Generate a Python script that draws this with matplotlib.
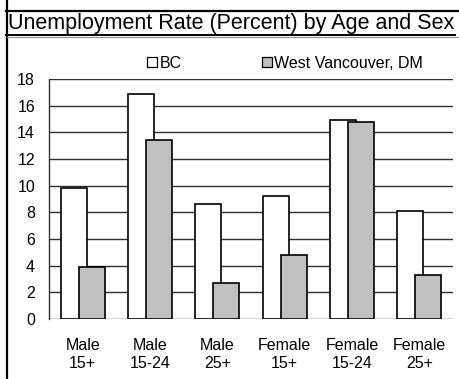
import matplotlib
matplotlib.use("Agg")
import matplotlib.pyplot as plt
from matplotlib.lines import Line2D
import numpy as np

categories = ["Male\n15+", "Male\n15-24", "Male\n25+", "Female\n15+", "Female\n15-24", "Female\n25+"]
bc = [9.8, 16.85, 8.6, 9.2, 14.9, 8.1]
west_van = [3.9, 13.4, 2.7, 4.8, 14.8, 3.3]
series_names = ["BC", "West Vancouver, DM"]
yticks = [0, 2, 4, 6, 8, 10, 12, 14, 16, 18]

plt.rcParams['font.family'] = ['Liberation Sans', 'DejaVu Sans']

W, H = 459, 379
fig = plt.figure(figsize=(W / 100, H / 100), dpi=100)

def fx(px):
    return px / W

def fy(py):
    return 1 - py / H

ax = fig.add_axes([fx(49), fy(319), fx(453) - fx(49), fy(79) - fy(319)])

x = np.arange(len(categories))
bw = 0.386
off = 0.134
ax.bar(x - off, bc, width=bw, color="white", edgecolor="black", linewidth=1.2, zorder=3, label=series_names[0])
ax.bar(x + off, west_van, width=bw, color="#c0c0c0", edgecolor="black", linewidth=1.2, zorder=4, label=series_names[1])

ax.set_xlim(-0.5, len(categories) - 0.5)
ax.set_ylim(0, 18)
ax.set_yticks(yticks)
ax.set_yticklabels([str(v) for v in yticks], fontsize=11.5)
ax.set_xticks(x)
ax.set_xticklabels(categories, fontsize=11.5, linespacing=1.25)
ax.tick_params(axis="y", length=0, pad=10)
ax.tick_params(axis="x", length=0, pad=14)
ax.yaxis.grid(True, color="#303030", linewidth=1.0, zorder=0)
ax.set_axisbelow(True)
for s in ["top", "right", "bottom"]:
    ax.spines[s].set_visible(False)
ax.spines["left"].set_color("#303030")
ax.spines["left"].set_linewidth(1.0)

# legend
leg = fig.legend(ncol=2, loc="center", bbox_to_anchor=(fx(285), fy(63)),
                 frameon=False, fontsize=11.5, handlelength=0.65, handleheight=0.65,
                 handletextpad=0.15, columnspacing=5.0, borderpad=0)
for h in leg.legend_handles:
    h.set_linewidth(0.9)

# title
fig.text(fx(8), fy(24), "Unemployment Rate (Percent) by Age and Sex", fontsize=15.5,
         ha="left", va="center")

# frame lines
fig.add_artist(Line2D([fx(6.5), fx(6.5)], [0, 1], color="black", linewidth=1.6))
fig.add_artist(Line2D([fx(6), 1], [fy(11), fy(11)], color="black", linewidth=1.6))
fig.add_artist(Line2D([fx(6), fx(455)], [fy(34.5), fy(34.5)], color="black", linewidth=1.4))
fig.add_artist(Line2D([fx(7), 1], [fy(37), fy(37)], color="#909090", linewidth=0.8))

fig.savefig("out.png", dpi=100)
